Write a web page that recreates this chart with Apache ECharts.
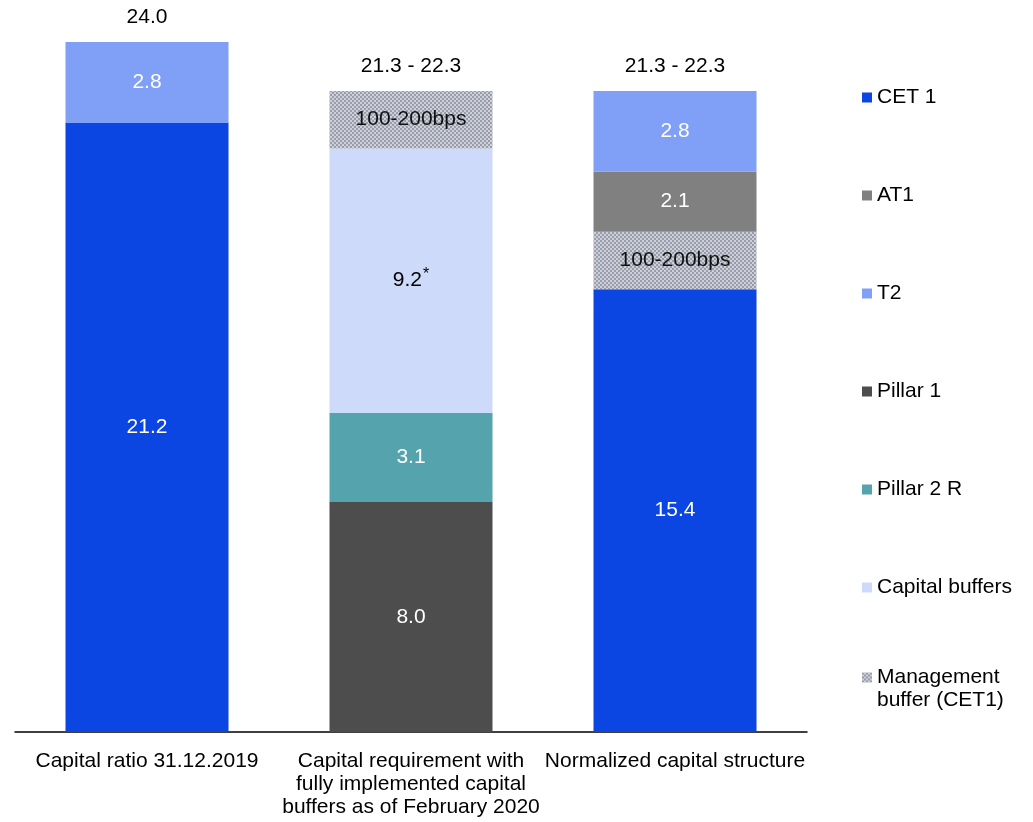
<!DOCTYPE html>
<html>
<head>
<meta charset="utf-8">
<script src="https://cdn.jsdelivr.net/npm/echarts@6/dist/echarts.min.js"></script>
<style>
html,body{margin:0;padding:0;background:#fff;}
#chart{width:1033px;height:822px;}
</style>
</head>
<body>
<div id="chart"></div>
<script>
// ---- data ----
var categories = ['Capital ratio 31.12.2019', 'Capital requirement with\nfully implemented capital\nbuffers as of February 2020', 'Normalized capital structure'];
var cet1 = [21.2, null, 15.4];
var pillar1 = [null, 8.0, null];
var pillar2R = [null, 3.1, null];
var capitalBuffers = [null, 9.2, null];
var mgmtBuffer = [null, 2.0, 2.0];
var at1 = [null, null, 2.1];
var t2 = [2.8, null, 2.8];
var totalLabels = ['24.0', '21.3 - 22.3', '21.3 - 22.3'];
var mgmtLabel = '100-200bps';
var legendNames = ['CET 1', 'AT1', 'T2', 'Pillar 1', 'Pillar 2 R', 'Capital buffers', 'Management\nbuffer (CET1)'];

// ---- pattern ----
var pc = document.createElement('canvas');
pc.width = 4; pc.height = 4;
var pctx = pc.getContext('2d');
pctx.fillStyle = '#ccd0dc'; pctx.fillRect(0, 0, 4, 4);
pctx.fillStyle = '#9a9da8'; pctx.fillRect(0, 0, 2, 2); pctx.fillRect(2, 2, 2, 2);
var pattern = { image: pc, repeat: 'repeat' };

var FONT = 'Arial, "Liberation Sans", sans-serif';
var FS = 21;
function fmt1(p) { return (+p.value).toFixed(1); }
function lbl(color, fmt) {
  return { show: true, position: 'inside', color: color, fontSize: FS, fontFamily: FONT, formatter: fmt || fmt1 };
}
function bar(name, data, color, label) {
  return {
    name: name, type: 'bar', stack: 'a', data: data, barWidth: 163,
    itemStyle: { color: color }, label: label, emphasis: { disabled: true }
  };
}
var legendText = { color: '#000', fontSize: FS, fontFamily: FONT, lineHeight: 20 };
var chart = echarts.init(document.getElementById('chart'));
chart.setOption({
  animation: false,
  backgroundColor: '#fff',
  grid: { left: 15, right: 226, top: 42, bottom: 90 },
  xAxis: {
    type: 'category', data: categories,
    axisLine: { lineStyle: { color: '#000', width: 1.5 } },
    axisTick: { show: false },
    axisLabel: { interval: 0, color: '#000', fontSize: FS, fontFamily: FONT, lineHeight: 23, margin: 18 }
  },
  yAxis: { type: 'value', min: 0, max: 24, show: false, splitLine: { show: false } },
  legend: [{
    orient: 'vertical', left: 862, top: 87, padding: 0, itemWidth: 10, itemHeight: 10, itemGap: 77,
    icon: 'rect', selectedMode: false,
    textStyle: legendText,
    data: legendNames.slice(0, 6)
  }, {
    orient: 'vertical', left: 862, top: 644, padding: 0, itemWidth: 10, itemHeight: 10,
    icon: 'rect', selectedMode: false,
    textStyle: {
      color: '#000', fontSize: FS, fontFamily: FONT,
      rich: {
        e: { color: '#fff', fontSize: FS, fontFamily: FONT, lineHeight: 23 },
        a: { color: '#000', fontSize: FS, fontFamily: FONT, lineHeight: 23 }
      }
    },
    formatter: function (n) {
      var parts = n.split('\n');
      return '{e| }\n{a|' + parts[0] + '}\n{a|' + parts[1] + '}';
    },
    data: [legendNames[6]]
  }],
  series: [
    bar(legendNames[0], cet1, '#0b45e2', lbl('#fff')),
    bar(legendNames[3], pillar1, '#4d4d4d', lbl('#fff')),
    bar(legendNames[4], pillar2R, '#55a3ad', lbl('#fff')),
    bar(legendNames[5], capitalBuffers, '#cddafa', {
      show: true, position: 'inside', color: '#000', fontSize: FS, fontFamily: FONT,
      formatter: function (p) { return '{v|' + p.value.toFixed(1) + '}{s|*}'; },
      rich: { v: { fontSize: FS, fontFamily: FONT, color: '#000' },
              s: { fontSize: 16, fontFamily: FONT, color: '#000', verticalAlign: 'top', padding: [0, 0, 12, 1] } }
    }),
    bar(legendNames[6], mgmtBuffer, pattern, lbl('#111', function () { return mgmtLabel; })),
    bar(legendNames[1], at1, '#808080', lbl('#fff')),
    bar(legendNames[2], t2, '#80a0f8', lbl('#fff')),
    {
      name: 'Total', type: 'bar', stack: 'a', data: [0, 0, 0], barWidth: 163,
      itemStyle: { color: 'transparent' },
      label: { show: true, position: 'top', distance: 14, color: '#000', fontSize: FS, fontFamily: FONT,
               formatter: function (p) { return totalLabels[p.dataIndex]; } }
    }
  ]
});
</script>
</body>
</html>
